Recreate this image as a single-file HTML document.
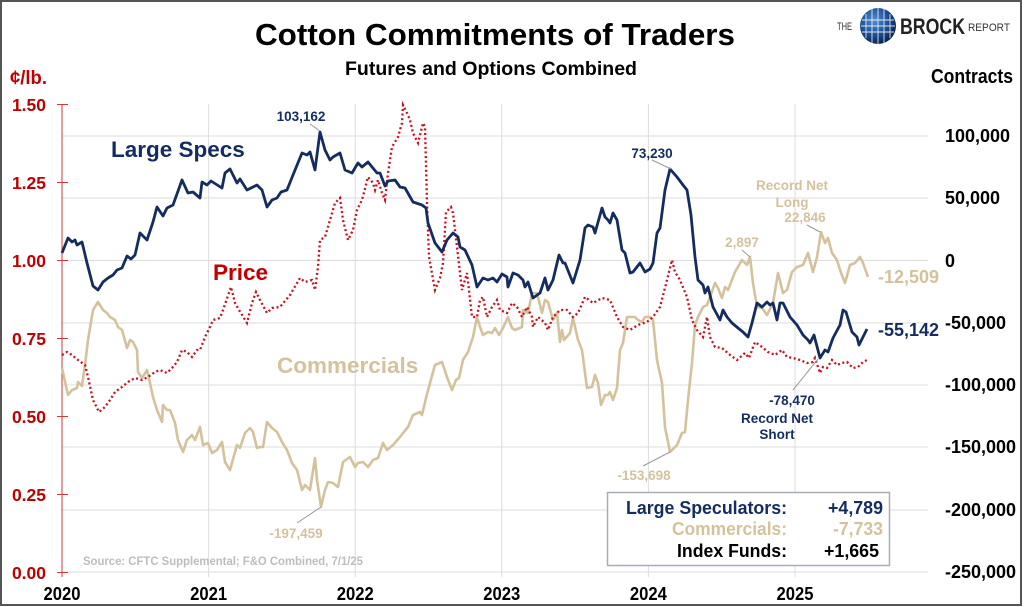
<!DOCTYPE html>
<html><head><meta charset="utf-8"><style>
html,body{margin:0;padding:0;background:#fff;}
svg{display:block;}
text{font-family:"Liberation Sans",Arial,sans-serif;font-weight:bold;}
</style></head><body>
<svg width="1024" height="607" viewBox="0 0 1024 607" xmlns="http://www.w3.org/2000/svg">
<defs>
<radialGradient id="gl" cx="40%" cy="35%" r="65%">
<stop offset="0" stop-color="#4f8fd6"/><stop offset="0.6" stop-color="#1d4f94"/><stop offset="1" stop-color="#0b2552"/>
</radialGradient>
</defs>
<rect x="0" y="0" width="1024" height="607" fill="#fff"/>
<rect x="1" y="1" width="1020" height="604" fill="none" stroke="#555" stroke-width="2"/>

<!-- Title -->
<text x="255" y="45" font-size="31" fill="#000" textLength="480" lengthAdjust="spacingAndGlyphs">Cotton Commitments of Traders</text>
<text x="345" y="75" font-size="19.5" fill="#000" textLength="292" lengthAdjust="spacingAndGlyphs">Futures and Options Combined</text>

<!-- Logo -->
<text x="837" y="30" font-size="11" fill="#333" style="font-weight:normal" textLength="15" lengthAdjust="spacingAndGlyphs">THE</text>
<circle cx="878" cy="26" r="18" fill="url(#gl)"/>
<g stroke="#fff" stroke-width="0.9" fill="none" opacity="0.85">
<line x1="862" y1="20" x2="894" y2="20"/><line x1="861" y1="26" x2="895" y2="26"/><line x1="862" y1="32" x2="894" y2="32"/>
<line x1="872" y1="9" x2="872" y2="43"/><line x1="878" y1="8" x2="878" y2="44"/><line x1="884" y1="9" x2="884" y2="43"/>
<line x1="866" y1="14" x2="866" y2="38"/><line x1="890" y1="14" x2="890" y2="38"/>
</g>
<text x="900" y="34" font-size="22" fill="#222" textLength="65" lengthAdjust="spacingAndGlyphs">BROCK</text>
<text x="968" y="31" font-size="11" fill="#333" style="font-weight:normal" textLength="42" lengthAdjust="spacingAndGlyphs">REPORT</text>

<!-- axis titles -->
<text x="10" y="84" font-size="19" fill="#c00000" textLength="37" lengthAdjust="spacingAndGlyphs">¢/lb.</text>
<text x="931" y="83" font-size="20" fill="#000" textLength="82" lengthAdjust="spacingAndGlyphs">Contracts</text>

<!-- gridlines -->
<g stroke="#dcdcdc" stroke-width="1">
<line x1="62" y1="136" x2="928" y2="136"/>
<line x1="62" y1="198" x2="928" y2="198"/>
<line x1="62" y1="260.5" x2="928" y2="260.5"/>
<line x1="62" y1="323" x2="928" y2="323"/>
<line x1="62" y1="385" x2="928" y2="385"/>
<line x1="62" y1="447" x2="928" y2="447"/>
<line x1="62" y1="510" x2="928" y2="510"/>
<line x1="62" y1="572" x2="928" y2="572"/>
<line x1="208.6" y1="104" x2="208.6" y2="577"/>
<line x1="355.2" y1="104" x2="355.2" y2="577"/>
<line x1="501.8" y1="104" x2="501.8" y2="577"/>
<line x1="648.4" y1="104" x2="648.4" y2="577"/>
<line x1="795" y1="104" x2="795" y2="577"/>
</g>

<!-- left axis -->
<g stroke="#d23a3a" stroke-width="1">
<line x1="62" y1="104" x2="62" y2="577"/>
<line x1="57" y1="104.5" x2="68" y2="104.5"/>
<line x1="57" y1="182.5" x2="68" y2="182.5"/>
<line x1="57" y1="260.5" x2="68" y2="260.5"/>
<line x1="57" y1="338.5" x2="68" y2="338.5"/>
<line x1="57" y1="416.5" x2="68" y2="416.5"/>
<line x1="57" y1="494.5" x2="68" y2="494.5"/>
<line x1="57" y1="572.5" x2="68" y2="572.5"/>
</g>
<g font-size="17.5" fill="#c00000" text-anchor="end">
<text x="46" y="111">1.50</text>
<text x="46" y="189">1.25</text>
<text x="46" y="267">1.00</text>
<text x="46" y="345">0.75</text>
<text x="46" y="423">0.50</text>
<text x="46" y="501">0.25</text>
<text x="46" y="579">0.00</text>
</g>

<!-- right axis labels -->
<g font-size="18" fill="#000">
<text x="945" y="142">100,000</text>
<text x="945" y="204">50,000</text>
<text x="945" y="267">0</text>
<text x="945" y="329">-50,000</text>
<text x="945" y="391">-100,000</text>
<text x="945" y="453">-150,000</text>
<text x="945" y="516">-200,000</text>
<text x="945" y="578">-250,000</text>
</g>

<!-- year labels -->
<g font-size="18.5" fill="#000" text-anchor="middle">
<text x="62" y="600" textLength="37" lengthAdjust="spacingAndGlyphs">2020</text>
<text x="208.6" y="600" textLength="37" lengthAdjust="spacingAndGlyphs">2021</text>
<text x="355.2" y="600" textLength="37" lengthAdjust="spacingAndGlyphs">2022</text>
<text x="501.8" y="600" textLength="37" lengthAdjust="spacingAndGlyphs">2023</text>
<text x="648.4" y="600" textLength="37" lengthAdjust="spacingAndGlyphs">2024</text>
<text x="795" y="600" textLength="37" lengthAdjust="spacingAndGlyphs">2025</text>
</g>

<!-- source -->
<text x="83" y="565" font-size="11.5" fill="#bdbdbd" textLength="280" lengthAdjust="spacingAndGlyphs">Source: CFTC Supplemental; F&amp;O Combined, 7/1/25</text>

<!-- Commercials (tan) -->
<polyline fill="none" stroke="#d4c29c" stroke-width="2.6" stroke-linejoin="round" points="62,368 68,395 72,390 77,388 78,382 82,386 85,365 88,340 93,310 98,302 103,310 107,313 110,317 115,320 118,327 122,330 127,348 130,340 133,342 137,350 138,372 142,378 147,370 150,383 153,397 157,410 162,422 163,405 167,410 170,410 175,423 178,440 183,452 187,440 192,435 195,440 200,427 203,445 208,443 212,453 217,450 222,442 225,462 230,470 237,445 240,448 245,433 250,428 253,432 257,448 260,447 263,447 267,422 272,428 277,432 282,442 287,450 292,463 297,470 302,490 305,485 310,490 315,458 317,480 321,507 325,490 328,482 333,483 338,487 343,462 350,457 355,467 358,463 363,462 368,467 373,460 378,458 383,443 387,450 393,445 400,437 403,433 408,427 413,415 420,412 422,415 426,398 430,383 435,365 442,362 447,377 452,390 456,380 459,378 463,360 468,352 473,337 477,317 480,327 483,335 488,332 492,333 495,328 499,335 503,328 508,317 512,328 515,330 522,327 523,310 528,313 532,293 537,293 542,313 545,300 548,302 553,320 557,313 560,342 562,330 564,340 570,333 573,318 578,340 582,350 587,388 592,387 595,375 598,383 601,405 605,395 608,395 610,392 613,400 617,388 620,350 623,343 627,317 632,317 635,317 638,320 642,322 645,317 650,317 653,320 657,360 662,383 665,427 670,452 677,445 682,433 685,432 688,400 692,363 695,325 698,317 703,307 707,305 710,297 715,283 718,288 722,298 725,287 728,290 735,272 742,260 747,265 750,257 753,283 757,307 762,308 767,315 773,303 778,273 783,293 787,290 792,272 797,267 803,265 808,253 813,272 817,257 821,232 825,243 828,238 832,253 837,260 840,270 845,283 850,265 855,263 860,257 863,263 868,277"/>

<!-- Price (red dotted) -->
<polyline fill="none" stroke="#c8101e" stroke-width="2.3" stroke-dasharray="2 2.6" points="62,355 67,352 72,355 78,360 85,365 88,377 93,400 99,412 105,407 110,400 115,392 122,387 128,382 135,378 142,380 148,377 155,372 160,370 167,373 172,368 177,362 182,350 187,352 192,357 197,350 200,350 205,337 210,327 213,320 220,318 223,310 231,287 235,303 239,310 247,323 252,303 256,292 260,300 267,313 272,308 280,307 290,295 300,278 305,282 312,280 315,290 318,267 320,240 325,237 330,220 335,203 340,198 343,220 348,240 353,230 357,210 362,200 368,177 373,183 375,190 378,180 382,193 385,200 388,173 392,147 398,137 402,123 403,105 407,113 410,120 413,133 418,143 423,123 425,127 427,203 429,257 435,290 440,278 443,263 446,212 451,207 453,213 457,247 462,290 467,273 472,317 477,317 480,300 483,297 487,317 492,307 497,300 500,310 507,313 512,303 517,307 522,317 527,307 532,317 533,327 538,317 545,323 548,330 553,317 560,310 567,310 573,317 578,313 585,297 593,303 602,298 610,300 617,317 623,327 630,330 638,325 647,322 653,317 660,307 667,280 672,260 675,272 680,280 687,297 692,320 697,330 703,337 707,317 710,337 715,347 722,348 730,355 737,360 745,353 749,358 755,342 762,347 768,352 775,355 782,350 787,357 793,358 800,360 807,363 813,362 815,358 820,373 823,367 827,368 832,360 837,365 842,363 847,362 853,368 858,367 863,362 867,360"/>

<!-- Large Specs (navy) -->
<polyline fill="none" stroke="#142c5f" stroke-width="2.8" stroke-linejoin="round" points="62,253 68,238 72,242 75,240 77,245 82,242 87,263 93,286 98,290 103,282 108,278 113,275 117,270 122,268 127,256 131,259 135,255 140,233 147,240 153,222 157,207 163,216 167,208 173,205 182,180 188,193 193,192 200,198 202,182 207,185 211,181 222,188 225,173 230,169 237,183 240,179 247,190 257,185 262,190 267,207 272,200 277,198 281,192 287,190 293,175 302,153 307,155 310,152 315,170 320,132 325,150 330,160 333,157 340,153 345,170 352,173 358,163 362,167 368,162 377,173 380,173 385,186 388,181 395,180 400,187 405,188 413,202 422,205 426,208 428,223 435,243 442,252 447,240 453,233 458,237 460,247 465,250 472,265 477,287 483,278 488,280 493,278 497,282 502,274 507,277 508,287 513,273 518,275 523,280 525,287 528,282 533,298 540,293 545,278 548,290 553,280 559,255 563,263 565,263 573,283 580,260 585,228 588,225 593,227 595,233 602,208 605,217 608,220 610,223 613,213 617,220 622,250 625,253 630,273 633,272 640,263 645,272 650,269 653,263 657,233 660,228 665,190 670,169 677,177 683,185 687,190 691,215 695,257 698,280 703,285 705,293 708,287 713,307 720,320 723,310 727,317 732,323 738,328 743,332 748,337 752,323 757,303 762,307 767,302 770,305 773,303 777,320 780,303 783,303 790,317 797,325 803,335 808,340 810,343 814,335 820,358 825,350 828,352 833,338 840,325 843,310 846,312 852,332 857,337 859,345 867,329"/>

<!-- leader lines -->
<g stroke="#9a9a9a" stroke-width="1">
<line x1="310" y1="124" x2="320" y2="131"/>
<line x1="652" y1="160" x2="671" y2="169"/>
<line x1="807" y1="225" x2="820" y2="232"/>
<line x1="742" y1="250" x2="750" y2="257"/>
<line x1="793" y1="390" x2="818" y2="359"/>
<line x1="643" y1="466" x2="670" y2="452"/>
<line x1="297" y1="523" x2="321" y2="507"/>
</g>

<!-- series labels -->
<text x="111" y="157" font-size="22.5" fill="#142c5f">Large Specs</text>
<text x="213" y="280" font-size="22.5" fill="#c00000">Price</text>
<text x="277" y="373" font-size="22.5" fill="#d4c29c">Commercials</text>

<!-- annotations -->
<g font-size="13.5" text-anchor="middle">
<text x="301" y="121" fill="#142c5f">103,162</text>
<text x="652" y="158" fill="#142c5f">73,230</text>
<text x="792" y="190" fill="#d4c29c">Record Net</text>
<text x="792" y="207" fill="#d4c29c">Long</text>
<text x="805" y="222" fill="#d4c29c">22,846</text>
<text x="742" y="247" fill="#d4c29c">2,897</text>
<text x="792" y="405" fill="#142c5f">-78,470</text>
<text x="777" y="423" fill="#142c5f">Record Net</text>
<text x="777" y="439" fill="#142c5f">Short</text>
<text x="644" y="480" fill="#d4c29c">-153,698</text>
<text x="296" y="538" fill="#d4c29c">-197,459</text>
</g>

<!-- end values -->
<text x="878" y="283" font-size="18" fill="#d4c29c">-12,509</text>
<text x="878" y="336" font-size="18" fill="#142c5f">-55,142</text>

<!-- legend -->
<rect x="607.5" y="492.5" width="282" height="73" fill="#fff" stroke="#a6aeb8" stroke-width="1.5"/>
<g font-size="18.5" text-anchor="end">
<text x="787" y="514" fill="#142c5f" textLength="161" lengthAdjust="spacingAndGlyphs">Large Speculators:</text>
<text x="883" y="514" fill="#142c5f" textLength="55" lengthAdjust="spacingAndGlyphs">+4,789</text>
<text x="787" y="535" fill="#d4c29c" textLength="115" lengthAdjust="spacingAndGlyphs">Commercials:</text>
<text x="883" y="535" fill="#d4c29c" textLength="50" lengthAdjust="spacingAndGlyphs">-7,733</text>
<text x="787" y="557" fill="#000" textLength="110" lengthAdjust="spacingAndGlyphs">Index Funds:</text>
<text x="879" y="557" fill="#000" textLength="55" lengthAdjust="spacingAndGlyphs">+1,665</text>
</g>
</svg>
</body></html>
